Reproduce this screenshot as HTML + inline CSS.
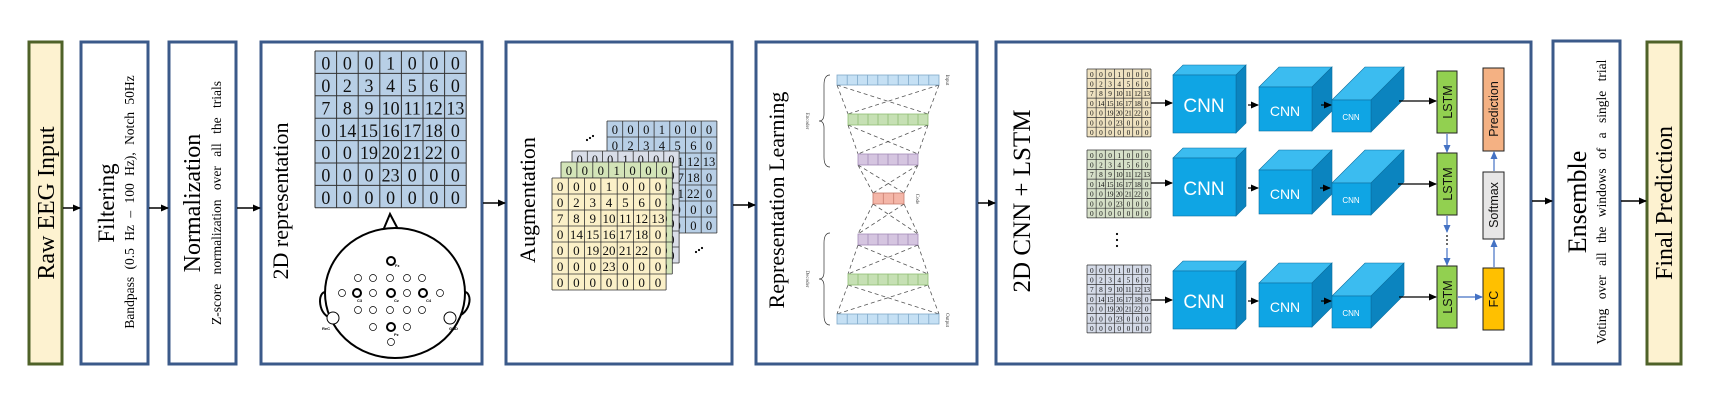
<!DOCTYPE html>
<html><head><meta charset="utf-8"><style>
html,body{margin:0;padding:0;background:#fff;}
svg{display:block;}
.serif{font-family:"Liberation Serif",serif;}
.sans{font-family:"Liberation Sans",sans-serif;}
</style></head><body>
<svg width="1724" height="412" viewBox="0 0 1724 412" xmlns="http://www.w3.org/2000/svg">
<defs>
<marker id="ah" markerWidth="8" markerHeight="8" refX="7" refY="4" orient="auto" markerUnits="userSpaceOnUse"><path d="M0,0.5 L8,4 L0,7.5 z" fill="#000"/></marker>
<marker id="ab" markerWidth="8" markerHeight="8" refX="7" refY="4" orient="auto" markerUnits="userSpaceOnUse"><path d="M0,0.5 L8,4 L0,7.5 z" fill="#4472c4"/></marker>
</defs>
<rect width="1724" height="412" fill="#fff"/>

<rect x="29" y="42" width="33" height="322" fill="#fdf2d0" stroke="#4f6228" stroke-width="3"/>
<rect x="81" y="42" width="67" height="322" fill="#fff" stroke="#3b5a8a" stroke-width="3"/>
<rect x="169" y="42" width="67" height="322" fill="#fff" stroke="#3b5a8a" stroke-width="3"/>
<rect x="261" y="42" width="221" height="322" fill="#fff" stroke="#3b5a8a" stroke-width="3"/>
<rect x="506" y="42" width="226" height="322" fill="#fff" stroke="#3b5a8a" stroke-width="3"/>
<rect x="756" y="42" width="221" height="322" fill="#fff" stroke="#3b5a8a" stroke-width="3"/>
<rect x="996" y="42" width="535" height="322" fill="#fff" stroke="#3b5a8a" stroke-width="3"/>
<rect x="1553" y="41" width="67" height="323" fill="#fff" stroke="#3b5a8a" stroke-width="3"/>
<rect x="1647" y="42" width="34" height="322" fill="#fdf2d0" stroke="#4f6228" stroke-width="3"/>

<g stroke="#000" stroke-width="1.5" marker-end="url(#ah)">
<line x1="63" y1="208" x2="80" y2="208"/>
<line x1="149" y1="208" x2="168" y2="208"/>
<line x1="237" y1="208" x2="260" y2="208"/>
<line x1="483" y1="203" x2="505" y2="203"/>
<line x1="733" y1="205" x2="755" y2="205"/>
<line x1="978" y1="203" x2="995" y2="203"/>
<line x1="1532" y1="201" x2="1552" y2="201"/>
<line x1="1621" y1="201" x2="1646" y2="201"/>
</g>

<g class="serif" fill="#000" text-anchor="middle">
<text transform="translate(54,203) rotate(-90)" font-size="24">Raw EEG Input</text>
<text transform="translate(114,203) rotate(-90)" font-size="23">Filtering</text>
<text transform="translate(134,202) rotate(-90)" font-size="13.5" word-spacing="4">Bandpass (0.5 Hz – 100 Hz), Notch 50Hz</text>
<text transform="translate(200,203) rotate(-90)" font-size="24">Normalization</text>
<text transform="translate(221,203) rotate(-90)" font-size="13.5" word-spacing="6">Z-score normalization over all the trials</text>
<text transform="translate(288,201) rotate(-90)" font-size="22">2D representation</text>
<text transform="translate(535,200) rotate(-90)" font-size="22">Augmentation</text>
<text transform="translate(784,200) rotate(-90)" font-size="22">Representation Learning</text>
<text transform="translate(1030,201) rotate(-90)" font-size="25">2D CNN + LSTM</text>
<text transform="translate(1586,202) rotate(-90)" font-size="26">Ensemble</text>
<text transform="translate(1606,202) rotate(-90)" font-size="13.5" word-spacing="6">Voting over all the windows of a single trial</text>
<text transform="translate(1672,203) rotate(-90)" font-size="24">Final Prediction</text>
</g>

<g transform="translate(315,51) scale(2.16,2.24)">
<rect width="70" height="70" fill="#b8cfe6"/>
<path d="M0 0H70M0 10H70M0 20H70M0 30H70M0 40H70M0 50H70M0 60H70M0 70H70M0 0V70M10 0V70M20 0V70M30 0V70M40 0V70M50 0V70M60 0V70M70 0V70" stroke="#333" stroke-width="1" vector-effect="non-scaling-stroke" fill="none"/>
<g class="serif" font-size="8.3" text-anchor="middle" fill="#111">
<text y="8.3"><tspan x="5">0</tspan><tspan x="15">0</tspan><tspan x="25">0</tspan><tspan x="35">1</tspan><tspan x="45">0</tspan><tspan x="55">0</tspan><tspan x="65">0</tspan></text>
<text y="18.3"><tspan x="5">0</tspan><tspan x="15">2</tspan><tspan x="25">3</tspan><tspan x="35">4</tspan><tspan x="45">5</tspan><tspan x="55">6</tspan><tspan x="65">0</tspan></text>
<text y="28.3"><tspan x="5">7</tspan><tspan x="15">8</tspan><tspan x="25">9</tspan><tspan x="35">10</tspan><tspan x="45">11</tspan><tspan x="55">12</tspan><tspan x="65">13</tspan></text>
<text y="38.3"><tspan x="5">0</tspan><tspan x="15">14</tspan><tspan x="25">15</tspan><tspan x="35">16</tspan><tspan x="45">17</tspan><tspan x="55">18</tspan><tspan x="65">0</tspan></text>
<text y="48.3"><tspan x="5">0</tspan><tspan x="15">0</tspan><tspan x="25">19</tspan><tspan x="35">20</tspan><tspan x="45">21</tspan><tspan x="55">22</tspan><tspan x="65">0</tspan></text>
<text y="58.3"><tspan x="5">0</tspan><tspan x="15">0</tspan><tspan x="25">0</tspan><tspan x="35">23</tspan><tspan x="45">0</tspan><tspan x="55">0</tspan><tspan x="65">0</tspan></text>
<text y="68.3"><tspan x="5">0</tspan><tspan x="15">0</tspan><tspan x="25">0</tspan><tspan x="35">0</tspan><tspan x="45">0</tspan><tspan x="55">0</tspan><tspan x="65">0</tspan></text>
</g></g>

<g stroke="#000" fill="none">
<path d="M327,292 C316,290 318,318 333,318" stroke-width="2"/>
<path d="M463,292 C474,290 472,318 450,318" stroke-width="2"/>
<path d="M382,233 L390,214 L400,233" stroke-width="2" fill="#fff"/>
<ellipse cx="395" cy="293" rx="70" ry="65" stroke-width="2" fill="#fff"/>
<circle cx="333" cy="318" r="6" fill="#fff" stroke-width="1"/>
<circle cx="450" cy="318" r="6" fill="#fff" stroke-width="1"/>
<g stroke-width="0.7" fill="#fff">
<circle cx="358" cy="278" r="3.5"/><circle cx="373" cy="278" r="3.5"/><circle cx="390" cy="278" r="3.5"/><circle cx="407" cy="278" r="3.5"/><circle cx="422" cy="278" r="3.5"/>
<circle cx="342" cy="293" r="3.5"/><circle cx="373" cy="293" r="3.5"/><circle cx="407" cy="293" r="3.5"/><circle cx="440" cy="293" r="3.5"/>
<circle cx="358" cy="310" r="3.5"/><circle cx="373" cy="310" r="3.5"/><circle cx="390" cy="310" r="3.5"/><circle cx="407" cy="310" r="3.5"/><circle cx="422" cy="310" r="3.5"/>
<circle cx="373" cy="327" r="3.5"/><circle cx="407" cy="327" r="3.5"/><circle cx="391" cy="342" r="3.5"/>
</g>
<g stroke-width="2" fill="#fff">
<circle cx="391" cy="261" r="4"/><circle cx="357" cy="293" r="4"/><circle cx="391" cy="293" r="4"/><circle cx="423" cy="293" r="4"/><circle cx="391" cy="327" r="4"/>
</g>
</g>
<g class="sans" font-size="4" font-weight="bold" fill="#000">
<text x="395" y="267">Fz</text><text x="357" y="302">C3</text><text x="394" y="302">Cz</text><text x="426" y="302">C4</text><text x="394" y="336">Pz</text>
<text x="322" y="330">ReC</text><text x="449" y="330">GND</text>
</g>

<g transform="translate(607,121) scale(1.57,1.6)">
<rect width="70" height="70" fill="#b8cfe6"/>
<path d="M0 0H70M0 10H70M0 20H70M0 30H70M0 40H70M0 50H70M0 60H70M0 70H70M0 0V70M10 0V70M20 0V70M30 0V70M40 0V70M50 0V70M60 0V70M70 0V70" stroke="#333" stroke-width="0.8" vector-effect="non-scaling-stroke" fill="none"/>
<g class="serif" font-size="8" text-anchor="middle" fill="#111">
<text y="8"><tspan x="5">0</tspan><tspan x="15">0</tspan><tspan x="25">0</tspan><tspan x="35">1</tspan><tspan x="45">0</tspan><tspan x="55">0</tspan><tspan x="65">0</tspan></text>
<text y="18"><tspan x="5">0</tspan><tspan x="15">2</tspan><tspan x="25">3</tspan><tspan x="35">4</tspan><tspan x="45">5</tspan><tspan x="55">6</tspan><tspan x="65">0</tspan></text>
<text y="28"><tspan x="5">7</tspan><tspan x="15">8</tspan><tspan x="25">9</tspan><tspan x="35">10</tspan><tspan x="45">11</tspan><tspan x="55">12</tspan><tspan x="65">13</tspan></text>
<text y="38"><tspan x="5">0</tspan><tspan x="15">14</tspan><tspan x="25">15</tspan><tspan x="35">16</tspan><tspan x="45">17</tspan><tspan x="55">18</tspan><tspan x="65">0</tspan></text>
<text y="48"><tspan x="5">0</tspan><tspan x="15">0</tspan><tspan x="25">19</tspan><tspan x="35">20</tspan><tspan x="45">21</tspan><tspan x="55">22</tspan><tspan x="65">0</tspan></text>
<text y="58"><tspan x="5">0</tspan><tspan x="15">0</tspan><tspan x="25">0</tspan><tspan x="35">23</tspan><tspan x="45">0</tspan><tspan x="55">0</tspan><tspan x="65">0</tspan></text>
<text y="68"><tspan x="5">0</tspan><tspan x="15">0</tspan><tspan x="25">0</tspan><tspan x="35">0</tspan><tspan x="45">0</tspan><tspan x="55">0</tspan><tspan x="65">0</tspan></text>
</g></g>
<g transform="translate(572,151) scale(1.53,1.6)">
<rect width="70" height="70" fill="#d9dde8"/>
<path d="M0 0H70M0 10H70M0 20H70M0 30H70M0 40H70M0 50H70M0 60H70M0 70H70M0 0V70M10 0V70M20 0V70M30 0V70M40 0V70M50 0V70M60 0V70M70 0V70" stroke="#333" stroke-width="0.8" vector-effect="non-scaling-stroke" fill="none"/>
<g class="serif" font-size="8" text-anchor="middle" fill="#111">
<text y="8"><tspan x="5">0</tspan><tspan x="15">0</tspan><tspan x="25">0</tspan><tspan x="35">1</tspan><tspan x="45">0</tspan><tspan x="55">0</tspan><tspan x="65">0</tspan></text>
<text y="18"><tspan x="65">0</tspan></text><text y="28"><tspan x="65">0</tspan></text><text y="38"><tspan x="65">0</tspan></text><text y="48"><tspan x="65">0</tspan></text><text y="58"><tspan x="65">0</tspan></text><text y="68"><tspan x="65">0</tspan></text>
</g></g>
<g transform="translate(561,162) scale(1.59,1.6)">
<rect width="70" height="70" fill="#d3e4b8"/>
<path d="M0 0H70M0 10H70M0 20H70M0 30H70M0 40H70M0 50H70M0 60H70M0 70H70M0 0V70M10 0V70M20 0V70M30 0V70M40 0V70M50 0V70M60 0V70M70 0V70" stroke="#333" stroke-width="0.8" vector-effect="non-scaling-stroke" fill="none"/>
<g class="serif" font-size="8" text-anchor="middle" fill="#111">
<text y="8"><tspan x="5">0</tspan><tspan x="15">0</tspan><tspan x="25">0</tspan><tspan x="35">1</tspan><tspan x="45">0</tspan><tspan x="55">0</tspan><tspan x="65">0</tspan></text>
<text y="18"><tspan x="65">0</tspan></text><text y="28"><tspan x="65">3</tspan></text><text y="38"><tspan x="65">0</tspan></text><text y="48"><tspan x="65">0</tspan></text><text y="58"><tspan x="65">0</tspan></text><text y="68"><tspan x="65">0</tspan></text>
</g></g>
<g transform="translate(552,178) scale(1.63,1.6)">
<rect width="70" height="70" fill="#fbf0c8"/>
<path d="M0 0H70M0 10H70M0 20H70M0 30H70M0 40H70M0 50H70M0 60H70M0 70H70M0 0V70M10 0V70M20 0V70M30 0V70M40 0V70M50 0V70M60 0V70M70 0V70" stroke="#333" stroke-width="0.8" vector-effect="non-scaling-stroke" fill="none"/>
<g class="serif" font-size="8" text-anchor="middle" fill="#111">
<text y="8"><tspan x="5">0</tspan><tspan x="15">0</tspan><tspan x="25">0</tspan><tspan x="35">1</tspan><tspan x="45">0</tspan><tspan x="55">0</tspan><tspan x="65">0</tspan></text>
<text y="18"><tspan x="5">0</tspan><tspan x="15">2</tspan><tspan x="25">3</tspan><tspan x="35">4</tspan><tspan x="45">5</tspan><tspan x="55">6</tspan><tspan x="65">0</tspan></text>
<text y="28"><tspan x="5">7</tspan><tspan x="15">8</tspan><tspan x="25">9</tspan><tspan x="35">10</tspan><tspan x="45">11</tspan><tspan x="55">12</tspan><tspan x="65">13</tspan></text>
<text y="38"><tspan x="5">0</tspan><tspan x="15">14</tspan><tspan x="25">15</tspan><tspan x="35">16</tspan><tspan x="45">17</tspan><tspan x="55">18</tspan><tspan x="65">0</tspan></text>
<text y="48"><tspan x="5">0</tspan><tspan x="15">0</tspan><tspan x="25">19</tspan><tspan x="35">20</tspan><tspan x="45">21</tspan><tspan x="55">22</tspan><tspan x="65">0</tspan></text>
<text y="58"><tspan x="5">0</tspan><tspan x="15">0</tspan><tspan x="25">0</tspan><tspan x="35">23</tspan><tspan x="45">0</tspan><tspan x="55">0</tspan><tspan x="65">0</tspan></text>
<text y="68"><tspan x="5">0</tspan><tspan x="15">0</tspan><tspan x="25">0</tspan><tspan x="35">0</tspan><tspan x="45">0</tspan><tspan x="55">0</tspan><tspan x="65">0</tspan></text>
</g></g>
<g fill="#000"><circle cx="587" cy="140" r="1.1"/><circle cx="590" cy="138" r="1.1"/><circle cx="593" cy="136" r="1.1"/>
<circle cx="696" cy="252" r="1.1"/><circle cx="699" cy="250" r="1.1"/><circle cx="702" cy="248" r="1.1"/></g>

<g stroke="#555" stroke-width="0.8" stroke-dasharray="4 3" fill="none">
<path d="M837,85 L848,114 M939,85 L928,114 M837,85 L928,114 M939,85 L848,114"/>
<path d="M848,125 L858,154 M928,125 L918,154 M848,125 L918,154 M928,125 L858,154"/>
<path d="M858,165 L873,193 M918,165 L904,193 M858,165 L904,193 M918,165 L873,193"/>
<path d="M873,204 L858,234 M904,204 L918,234 M873,204 L918,234 M904,204 L858,234"/>
<path d="M858,245 L848,274 M918,245 L928,274 M858,245 L928,274 M918,245 L848,274"/>
<path d="M848,285 L837,314 M928,285 L939,314 M848,285 L939,314 M928,285 L837,314"/>
</g>
<g stroke-width="0.8">
<rect x="837" y="75" width="102" height="10" fill="#c5e0f4" stroke="#7fa8c9"/>
<path d="M847.2 75v10M857.4 75v10M867.6 75v10M877.8 75v10M888 75v10M898.2 75v10M908.4 75v10M918.6 75v10M928.8 75v10" stroke="#7fa8c9"/>
<rect x="848" y="114" width="80" height="11" fill="#c6e0b4" stroke="#8fbf74"/>
<path d="M858 114v11M868 114v11M878 114v11M888 114v11M898 114v11M908 114v11M918 114v11" stroke="#8fbf74"/>
<rect x="858" y="154" width="60" height="11" fill="#d5c5e0" stroke="#a38bb8"/>
<path d="M868 154v11M878 154v11M888 154v11M898 154v11M908 154v11" stroke="#a38bb8"/>
<rect x="873" y="193" width="31" height="11" fill="#f4b6a8" stroke="#c87d6e"/>
<path d="M883.3 193v11M893.7 193v11" stroke="#c87d6e"/>
<rect x="858" y="234" width="60" height="11" fill="#d5c5e0" stroke="#a38bb8"/>
<path d="M868 234v11M878 234v11M888 234v11M898 234v11M908 234v11" stroke="#a38bb8"/>
<rect x="848" y="274" width="80" height="11" fill="#c6e0b4" stroke="#8fbf74"/>
<path d="M858 274v11M868 274v11M878 274v11M888 274v11M898 274v11M908 274v11M918 274v11" stroke="#8fbf74"/>
<rect x="837" y="314" width="102" height="10" fill="#c5e0f4" stroke="#7fa8c9"/>
<path d="M847.2 314v10M857.4 314v10M867.6 314v10M877.8 314v10M888 314v10M898.2 314v10M908.4 314v10M918.6 314v10M928.8 314v10" stroke="#7fa8c9"/>
</g>
<g stroke="#333" stroke-width="0.7" fill="none">
<path d="M830,75 Q824,75 824,85 L824,114 Q824,121 819,121 Q824,121 824,128 L824,157 Q824,167 830,167"/>
<path d="M830,233 Q824,233 824,243 L824,272 Q824,279 819,279 Q824,279 824,286 L824,315 Q824,325 830,325"/>
</g>
<g class="serif" font-size="5" fill="#333" text-anchor="middle">
<text transform="translate(946,80) rotate(90)">Input</text>
<text transform="translate(946,320) rotate(90)">Output</text>
<text transform="translate(916,199) rotate(90)">Code</text>
<text transform="translate(806,121) rotate(90)">Encoder</text>
<text transform="translate(806,279) rotate(90)">Decoder</text>
</g>

<g transform="translate(1087,69) scale(0.914,0.97)">
<rect width="70" height="70" fill="#efe2c0"/>
<path d="M0 0H70M0 10H70M0 20H70M0 30H70M0 40H70M0 50H70M0 60H70M0 70H70M0 0V70M10 0V70M20 0V70M30 0V70M40 0V70M50 0V70M60 0V70M70 0V70" stroke="#333" stroke-width="0.7" vector-effect="non-scaling-stroke" fill="none"/>
<g class="serif" font-size="8" text-anchor="middle" fill="#111" letter-spacing="-0.6">
<text y="8"><tspan x="5">0</tspan><tspan x="15">0</tspan><tspan x="25">0</tspan><tspan x="35">1</tspan><tspan x="45">0</tspan><tspan x="55">0</tspan><tspan x="65">0</tspan></text>
<text y="18"><tspan x="5">0</tspan><tspan x="15">2</tspan><tspan x="25">3</tspan><tspan x="35">4</tspan><tspan x="45">5</tspan><tspan x="55">6</tspan><tspan x="65">0</tspan></text>
<text y="28"><tspan x="5">7</tspan><tspan x="15">8</tspan><tspan x="25">9</tspan><tspan x="35">10</tspan><tspan x="45">11</tspan><tspan x="55">12</tspan><tspan x="65">13</tspan></text>
<text y="38"><tspan x="5">0</tspan><tspan x="15">14</tspan><tspan x="25">15</tspan><tspan x="35">16</tspan><tspan x="45">17</tspan><tspan x="55">18</tspan><tspan x="65">0</tspan></text>
<text y="48"><tspan x="5">0</tspan><tspan x="15">0</tspan><tspan x="25">19</tspan><tspan x="35">20</tspan><tspan x="45">21</tspan><tspan x="55">22</tspan><tspan x="65">0</tspan></text>
<text y="58"><tspan x="5">0</tspan><tspan x="15">0</tspan><tspan x="25">0</tspan><tspan x="35">23</tspan><tspan x="45">0</tspan><tspan x="55">0</tspan><tspan x="65">0</tspan></text>
<text y="68"><tspan x="5">0</tspan><tspan x="15">0</tspan><tspan x="25">0</tspan><tspan x="35">0</tspan><tspan x="45">0</tspan><tspan x="55">0</tspan><tspan x="65">0</tspan></text>
</g></g>
<g transform="translate(1087,150) scale(0.914,0.97)">
<rect width="70" height="70" fill="#d6e0c8"/>
<path d="M0 0H70M0 10H70M0 20H70M0 30H70M0 40H70M0 50H70M0 60H70M0 70H70M0 0V70M10 0V70M20 0V70M30 0V70M40 0V70M50 0V70M60 0V70M70 0V70" stroke="#333" stroke-width="0.7" vector-effect="non-scaling-stroke" fill="none"/>
<g class="serif" font-size="8" text-anchor="middle" fill="#111" letter-spacing="-0.6">
<text y="8"><tspan x="5">0</tspan><tspan x="15">0</tspan><tspan x="25">0</tspan><tspan x="35">1</tspan><tspan x="45">0</tspan><tspan x="55">0</tspan><tspan x="65">0</tspan></text>
<text y="18"><tspan x="5">0</tspan><tspan x="15">2</tspan><tspan x="25">3</tspan><tspan x="35">4</tspan><tspan x="45">5</tspan><tspan x="55">6</tspan><tspan x="65">0</tspan></text>
<text y="28"><tspan x="5">7</tspan><tspan x="15">8</tspan><tspan x="25">9</tspan><tspan x="35">10</tspan><tspan x="45">11</tspan><tspan x="55">12</tspan><tspan x="65">13</tspan></text>
<text y="38"><tspan x="5">0</tspan><tspan x="15">14</tspan><tspan x="25">15</tspan><tspan x="35">16</tspan><tspan x="45">17</tspan><tspan x="55">18</tspan><tspan x="65">0</tspan></text>
<text y="48"><tspan x="5">0</tspan><tspan x="15">0</tspan><tspan x="25">19</tspan><tspan x="35">20</tspan><tspan x="45">21</tspan><tspan x="55">22</tspan><tspan x="65">0</tspan></text>
<text y="58"><tspan x="5">0</tspan><tspan x="15">0</tspan><tspan x="25">0</tspan><tspan x="35">23</tspan><tspan x="45">0</tspan><tspan x="55">0</tspan><tspan x="65">0</tspan></text>
<text y="68"><tspan x="5">0</tspan><tspan x="15">0</tspan><tspan x="25">0</tspan><tspan x="35">0</tspan><tspan x="45">0</tspan><tspan x="55">0</tspan><tspan x="65">0</tspan></text>
</g></g>
<g transform="translate(1087,265) scale(0.914,0.97)">
<rect width="70" height="70" fill="#d5dbe8"/>
<path d="M0 0H70M0 10H70M0 20H70M0 30H70M0 40H70M0 50H70M0 60H70M0 70H70M0 0V70M10 0V70M20 0V70M30 0V70M40 0V70M50 0V70M60 0V70M70 0V70" stroke="#333" stroke-width="0.7" vector-effect="non-scaling-stroke" fill="none"/>
<g class="serif" font-size="8" text-anchor="middle" fill="#111" letter-spacing="-0.6">
<text y="8"><tspan x="5">0</tspan><tspan x="15">0</tspan><tspan x="25">0</tspan><tspan x="35">1</tspan><tspan x="45">0</tspan><tspan x="55">0</tspan><tspan x="65">0</tspan></text>
<text y="18"><tspan x="5">0</tspan><tspan x="15">2</tspan><tspan x="25">3</tspan><tspan x="35">4</tspan><tspan x="45">5</tspan><tspan x="55">6</tspan><tspan x="65">0</tspan></text>
<text y="28"><tspan x="5">7</tspan><tspan x="15">8</tspan><tspan x="25">9</tspan><tspan x="35">10</tspan><tspan x="45">11</tspan><tspan x="55">12</tspan><tspan x="65">13</tspan></text>
<text y="38"><tspan x="5">0</tspan><tspan x="15">14</tspan><tspan x="25">15</tspan><tspan x="35">16</tspan><tspan x="45">17</tspan><tspan x="55">18</tspan><tspan x="65">0</tspan></text>
<text y="48"><tspan x="5">0</tspan><tspan x="15">0</tspan><tspan x="25">19</tspan><tspan x="35">20</tspan><tspan x="45">21</tspan><tspan x="55">22</tspan><tspan x="65">0</tspan></text>
<text y="58"><tspan x="5">0</tspan><tspan x="15">0</tspan><tspan x="25">0</tspan><tspan x="35">23</tspan><tspan x="45">0</tspan><tspan x="55">0</tspan><tspan x="65">0</tspan></text>
<text y="68"><tspan x="5">0</tspan><tspan x="15">0</tspan><tspan x="25">0</tspan><tspan x="35">0</tspan><tspan x="45">0</tspan><tspan x="55">0</tspan><tspan x="65">0</tspan></text>
</g></g>
<g fill="#000"><circle cx="1117" cy="234" r="1.1"/><circle cx="1117" cy="240" r="1.1"/><circle cx="1117" cy="246" r="1.1"/></g>

<g stroke="#0a6fa0" stroke-width="0.6">
<polygon points="1173,75 1183,65 1246,65 1236,75" fill="#3bbcf0"/><polygon points="1236,75 1246,65 1246,123 1236,133" fill="#0b84bf"/><rect x="1173" y="75" width="63" height="58" fill="#0fa5e4"/>
<polygon points="1259,87 1279,67 1332,67 1312,87" fill="#3bbcf0"/><polygon points="1312,87 1332,67 1332,111 1312,131" fill="#0b84bf"/><rect x="1259" y="87" width="53" height="44" fill="#0fa5e4"/>
<polygon points="1332,100 1365,67 1404,67 1371,100" fill="#3bbcf0"/><polygon points="1371,100 1404,67 1404,99 1371,132" fill="#0b84bf"/><rect x="1332" y="100" width="39" height="32" fill="#0fa5e4"/>
<polygon points="1173,158 1183,148 1246,148 1236,158" fill="#3bbcf0"/><polygon points="1236,158 1246,148 1246,206 1236,216" fill="#0b84bf"/><rect x="1173" y="158" width="63" height="58" fill="#0fa5e4"/>
<polygon points="1259,170 1279,150 1332,150 1312,170" fill="#3bbcf0"/><polygon points="1312,170 1332,150 1332,194 1312,214" fill="#0b84bf"/><rect x="1259" y="170" width="53" height="44" fill="#0fa5e4"/>
<polygon points="1332,183 1365,150 1404,150 1371,183" fill="#3bbcf0"/><polygon points="1371,183 1404,150 1404,182 1371,215" fill="#0b84bf"/><rect x="1332" y="183" width="39" height="32" fill="#0fa5e4"/>
<polygon points="1173,271 1183,261 1246,261 1236,271" fill="#3bbcf0"/><polygon points="1236,271 1246,261 1246,319 1236,329" fill="#0b84bf"/><rect x="1173" y="271" width="63" height="58" fill="#0fa5e4"/>
<polygon points="1259,283 1279,263 1332,263 1312,283" fill="#3bbcf0"/><polygon points="1312,283 1332,263 1332,307 1312,327" fill="#0b84bf"/><rect x="1259" y="283" width="53" height="44" fill="#0fa5e4"/>
<polygon points="1332,296 1365,263 1404,263 1371,296" fill="#3bbcf0"/><polygon points="1371,296 1404,263 1404,295 1371,328" fill="#0b84bf"/><rect x="1332" y="296" width="39" height="32" fill="#0fa5e4"/>
</g>
<g class="sans" fill="#fff" text-anchor="middle">
<text x="1204" y="112" font-size="19">CNN</text><text x="1285" y="116" font-size="14">CNN</text><text x="1351" y="120" font-size="8">CNN</text>
<text x="1204" y="195" font-size="19">CNN</text><text x="1285" y="199" font-size="14">CNN</text><text x="1351" y="203" font-size="8">CNN</text>
<text x="1204" y="308" font-size="19">CNN</text><text x="1285" y="312" font-size="14">CNN</text><text x="1351" y="316" font-size="8">CNN</text>
</g>
<g stroke="#000" stroke-width="1.2" marker-end="url(#ah)">
<line x1="1151" y1="103" x2="1172" y2="103"/><line x1="1151" y1="183" x2="1172" y2="183"/><line x1="1151" y1="300" x2="1172" y2="300"/>
<line x1="1248" y1="105" x2="1258" y2="105"/><line x1="1248" y1="188" x2="1258" y2="188"/><line x1="1248" y1="301" x2="1258" y2="301"/>
<line x1="1321" y1="105" x2="1331" y2="105"/><line x1="1320" y1="188" x2="1330" y2="188"/><line x1="1321" y1="301" x2="1331" y2="301"/>
<line x1="1399" y1="101" x2="1436" y2="101"/><line x1="1398" y1="184" x2="1436" y2="184"/><line x1="1399" y1="297" x2="1436" y2="297"/>
</g>

<g stroke="#222" stroke-width="1">
<rect x="1437" y="71" width="20" height="62" fill="#92d050"/>
<rect x="1437" y="153" width="20" height="62" fill="#92d050"/>
<rect x="1437" y="266" width="20" height="62" fill="#92d050"/>
<rect x="1483" y="268" width="21" height="62" fill="#ffc000"/>
<rect x="1483" y="172" width="21" height="67" fill="#e7e6e6"/>
<rect x="1483" y="68" width="21" height="83" fill="#f4b183"/>
</g>
<g stroke="#4472c4" stroke-width="1.2" marker-end="url(#ab)">
<line x1="1447" y1="134" x2="1447" y2="152"/>
<line x1="1447" y1="216" x2="1447" y2="232"/>
<line x1="1447" y1="248" x2="1447" y2="265"/>
<line x1="1458" y1="297" x2="1482" y2="297"/>
<line x1="1494" y1="267" x2="1494" y2="240"/>
<line x1="1494" y1="171" x2="1494" y2="152"/>
</g>
<g fill="#000"><circle cx="1447" cy="236" r="0.9"/><circle cx="1447" cy="240" r="0.9"/><circle cx="1447" cy="244" r="0.9"/></g>
<g class="sans" fill="#111" text-anchor="middle" font-size="12.5">
<text transform="translate(1452,102) rotate(-90)">LSTM</text>
<text transform="translate(1452,184) rotate(-90)">LSTM</text>
<text transform="translate(1452,297) rotate(-90)">LSTM</text>
<text transform="translate(1498,299) rotate(-90)">FC</text>
<text transform="translate(1498,205) rotate(-90)">Softmax</text>
<text transform="translate(1498,109) rotate(-90)">Prediction</text>
</g>
</svg>
</body></html>
